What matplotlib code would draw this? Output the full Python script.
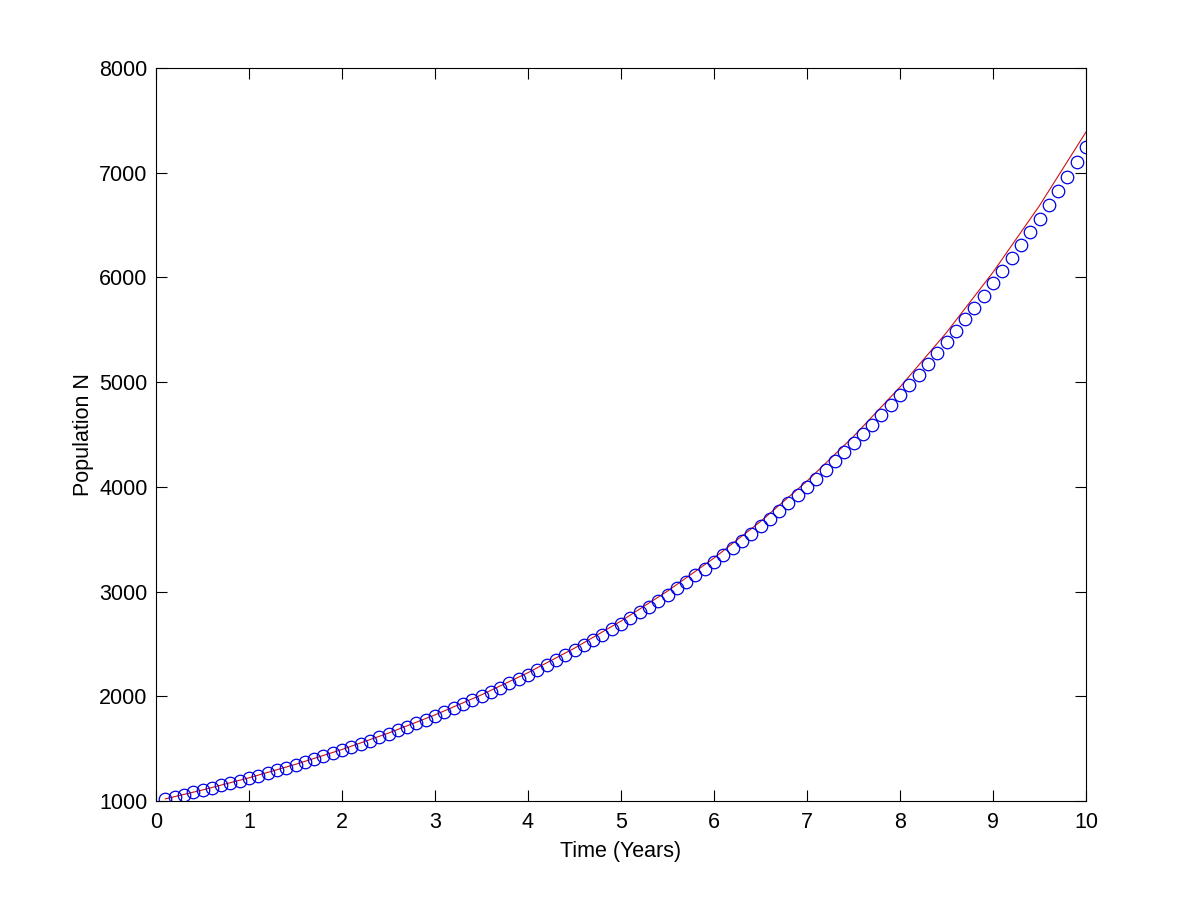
import matplotlib
import matplotlib.pyplot as plt
import numpy as np

matplotlib.use('AGG')

# Euler steps (circles), t = 0.1 ... 10
t_euler = np.arange(1, 101) / 10
n_euler = [1020.0, 1040.4, 1061.2, 1082.4, 1104.1, 1126.2, 1148.7, 1171.7, 1195.1, 1219.0,
           1243.4, 1268.2, 1293.6, 1319.5, 1345.9, 1372.8, 1400.2, 1428.2, 1456.8, 1485.9,
           1515.7, 1546.0, 1576.9, 1608.4, 1640.6, 1673.4, 1706.9, 1741.0, 1775.8, 1811.4,
           1847.6, 1884.5, 1922.2, 1960.7, 1999.9, 2039.9, 2080.7, 2122.3, 2164.7, 2208.0,
           2252.2, 2297.2, 2343.2, 2390.1, 2437.9, 2486.6, 2536.4, 2587.1, 2638.8, 2691.6,
           2745.4, 2800.3, 2856.3, 2913.5, 2971.7, 3031.2, 3091.8, 3153.6, 3216.7, 3281.0,
           3346.6, 3413.6, 3481.9, 3551.5, 3622.5, 3695.0, 3768.9, 3844.3, 3921.2, 3999.6,
           4079.6, 4161.2, 4244.4, 4329.3, 4415.9, 4504.2, 4594.3, 4686.2, 4779.9, 4875.5,
           4973.0, 5072.5, 5173.9, 5277.4, 5383.0, 5490.6, 5600.4, 5712.4, 5826.7, 5943.2,
           6062.1, 6183.3, 6307.0, 6433.1, 6561.8, 6693.0, 6826.9, 6963.4, 7102.7, 7244.6]

# exact curve (red line)
t_exact = [0.1, 0.5, 1.0, 1.5, 2.0, 2.5, 3.0, 3.5, 4.0, 4.5, 5.0,
           5.5, 6.0, 6.5, 7.0, 7.5, 8.0, 8.5, 9.0, 9.5, 10.0]
n_exact = [1020.2, 1105.2, 1221.4, 1349.9, 1491.8, 1648.7, 1822.1, 2013.8, 2225.5, 2459.6, 2718.3,
           3004.2, 3320.1, 3669.3, 4055.2, 4481.7, 4953.0, 5473.9, 6049.6, 6685.9, 7389.1]

plt.rcParams['font.family'] = ['Liberation Sans', 'DejaVu Sans']

fig = plt.figure(figsize=(12, 9.01), dpi=100)
ax = fig.add_axes([0.13, 0.111, 0.775, 0.8135])

ax.plot(t_exact, n_exact, color='#d01010', linewidth=0.8)
ax.plot(t_euler, n_euler, 'o', markerfacecolor='none', markeredgecolor='#0000e0',
        markersize=9, markeredgewidth=0.9, linestyle='none')

ax.set_xlim(0, 10)
ax.set_ylim(1000, 8000)
ax.set_xticks(range(0, 11))
ax.set_yticks(range(1000, 8001, 1000))
ax.tick_params(direction='in', length=8, width=0.8, labelsize=15.5,
               top=True, right=True, pad=6)
ax.tick_params(axis='x', pad=8)
for s in ax.spines.values():
    s.set_linewidth(0.8)

ax.set_xlabel("Time (Years)", fontsize=15.5, labelpad=6)
ax.set_ylabel("Population N", fontsize=15.5, labelpad=4)

plt.savefig("out.png", dpi=100)
plt.close(fig)
